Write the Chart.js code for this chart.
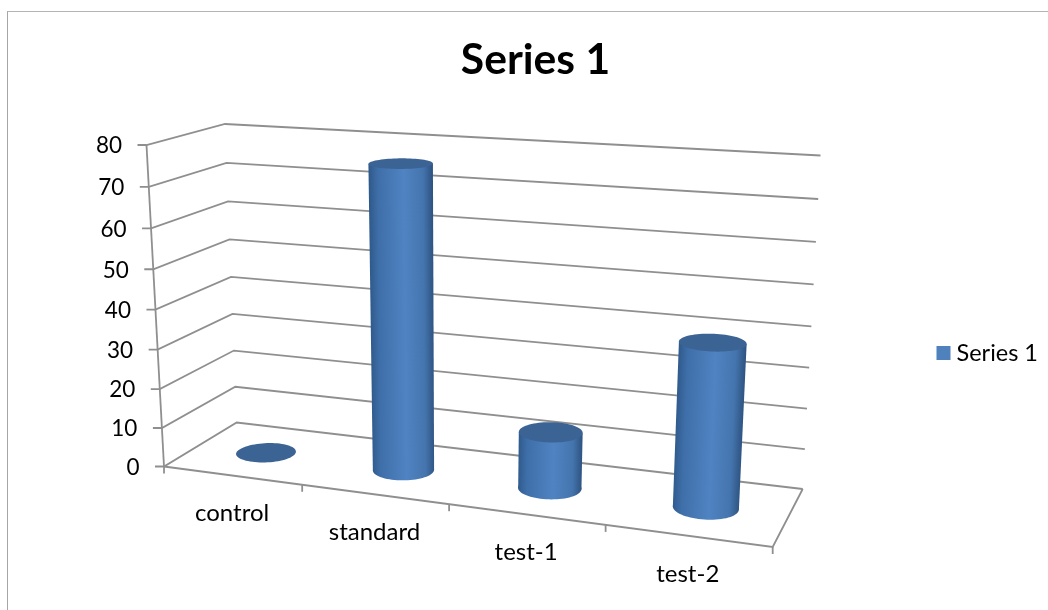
<!DOCTYPE html>
<html>
<head>
<meta charset="utf-8">
<title>Series 1</title>
<script src="https://cdn.jsdelivr.net/npm/chart.js@4"></script>
<style>
  html, body { margin: 0; padding: 0; background: #fff; overflow: hidden; }
  #wrap { position: relative; width: 1048px; height: 610px; }
  #frame { position: absolute; left: 7px; top: 11px; right: 0; bottom: 0; border-left: 1.5px solid #a6a6a6; border-top: 1.5px solid #b4b4b4; }
  canvas { position: absolute; left: 0; top: 0; display: block; }
</style>
</head>
<body>
<div id="wrap">
  <div id="frame"></div>
  <canvas id="chart" width="1048" height="610"></canvas>
</div>
<script>
const seriesName = "Series 1";
const categories = ["control", "standard", "test-1", "test-2"];
const seriesValues = [0, 76, 14, 39.5];
const yMin = 0;
const yMax = 80;
const yStep = 10;

// corners of the 3d box on screen: front/back, left/right, floor/top
const box = {
  frontLeftFloor: [164, 466.5], frontLeftTop: [146.5, 145],
  backLeftFloor: [236.7, 422.5], backLeftTop: [225, 124],
  frontRightFloor: [772.7, 547], frontRightTop: [793, 184],
  backRightFloor: [802.7, 489], backRightTop: [820.5, 155.5],
};
const lineColor = "#8f8f8f";
const capColor = "#3b6394";
const valueFont = "22.5px Lato";
const categoryFont = "24px Lato";
const depthRadius = 0.2;

function perspective(t, a) {
  return t / (a + (1 - a) * t);
}

function mix(p, q, t) {
  return [p[0] + (q[0] - p[0]) * t, p[1] + (q[1] - p[1]) * t];
}

// u along the categories, d into the page, v up the value axis (all 0..1)
function project(u, d, v) {
  const pu = perspective(u, 1.135);
  const pv = perspective(v, 1.05);
  const floorFront = mix(box.frontLeftFloor, box.frontRightFloor, pu);
  const floorBack = mix(box.backLeftFloor, box.backRightFloor, pu);
  const topFront = mix(box.frontLeftTop, box.frontRightTop, pu);
  const topBack = mix(box.backLeftTop, box.backRightTop, pu);
  return mix(mix(floorFront, floorBack, d), mix(topFront, topBack, d), pv);
}

function polyline(ctx, points) {
  ctx.beginPath();
  points.forEach((p, i) => (i ? ctx.lineTo(p[0], p[1]) : ctx.moveTo(p[0], p[1])));
  ctx.stroke();
}

function fillPolygon(ctx, points, style) {
  ctx.fillStyle = style;
  ctx.beginPath();
  points.forEach((p, i) => (i ? ctx.lineTo(p[0], p[1]) : ctx.moveTo(p[0], p[1])));
  ctx.closePath();
  ctx.fill();
}

function ring(u, r, v) {
  const pts = [];
  for (let k = 0; k < 72; k++) {
    const a = (k / 72) * Math.PI * 2;
    pts.push(project(u + r * Math.cos(a), 0.5 + depthRadius * Math.sin(a), v));
  }
  return pts;
}

function drawWalls(chart) {
  const ctx = chart.ctx;
  const area = chart.chartArea;
  const yScale = chart.scales.y;
  const xScale = chart.scales.x;
  ctx.save();
  ctx.strokeStyle = lineColor;
  ctx.lineWidth = 1.8;
  ctx.fillStyle = "#000";
  ctx.textBaseline = "middle";

  ctx.font = valueFont;
  ctx.textAlign = "right";
  yScale.ticks.forEach((tick) => {
    const v = (area.bottom - yScale.getPixelForValue(tick.value)) / area.height;
    const front = project(0, 0, v);
    polyline(ctx, [[front[0] - 9, front[1]], front, project(0, 1, v), project(1, 1, v)]);
    ctx.fillText(tick.label, front[0] - 24.5, front[1] + 1);
  });

  polyline(ctx, [project(0, 0, 0), project(0, 0, 1)]);
  polyline(ctx, [project(0, 0, 0), project(1, 0, 0), project(1, 1, 0)]);

  const step = area.width / categories.length;
  for (let i = 0; i <= categories.length; i++) {
    const p = project((i * step) / area.width, 0, 0);
    polyline(ctx, [p, [p[0], p[1] + 7]]);
  }

  ctx.font = categoryFont;
  ctx.textAlign = "center";
  categories.forEach((name, i) => {
    const p = project((xScale.getPixelForValue(i) - area.left) / area.width, 0, 0);
    ctx.fillText(name, p[0], p[1] + 38);
  });
  ctx.restore();
}

function drawCylinder(chart, bar) {
  const ctx = chart.ctx;
  const area = chart.chartArea;
  const u = (bar.x - area.left) / area.width;
  const r = bar.width / 2 / area.width;
  const vTop = (area.bottom - bar.y) / area.height;
  const vBase = (area.bottom - bar.base) / area.height;
  const topRing = ring(u, r, vTop);
  const baseRing = ring(u, r, vBase);

  if (vTop > vBase) {
    const topC = project(u, 0.5, vTop);
    const baseC = project(u, 0.5, vBase);
    const len = Math.hypot(topC[0] - baseC[0], topC[1] - baseC[1]);
    const n = [-(topC[1] - baseC[1]) / len, (topC[0] - baseC[0]) / len];
    const side = (p, c) => (p[0] - c[0]) * n[0] + (p[1] - c[1]) * n[1];
    const pick = (pts, c, sign) => pts.reduce((best, p) => (sign * side(p, c) > sign * side(best, c) ? p : best));
    const sign = n[0] > 0 ? 1 : -1;
    const tl = pick(topRing, topC, -sign);
    const tr = pick(topRing, topC, sign);
    const bl = pick(baseRing, baseC, -sign);
    const br = pick(baseRing, baseC, sign);
    const mid = mix(baseC, topC, 0.5);
    const half = (Math.abs(side(tr, topC)) + Math.abs(side(br, baseC))) / 2;
    const grad = ctx.createLinearGradient(
      mid[0] - sign * n[0] * half, mid[1] - sign * n[1] * half,
      mid[0] + sign * n[0] * half, mid[1] + sign * n[1] * half
    );
    grad.addColorStop(0, "#2f5a8c");
    grad.addColorStop(0.14, "#3f6fa9");
    grad.addColorStop(0.55, "#4f83c2");
    grad.addColorStop(0.85, "#4575ae");
    grad.addColorStop(1, "#2e5482");
    fillPolygon(ctx, baseRing, grad);
    fillPolygon(ctx, [tl, tr, br, bl], grad);
  }
  fillPolygon(ctx, topRing, capColor);
}

const cylinders = {
  id: "cylinders",
  beforeDatasetsDraw(chart) {
    drawWalls(chart);
  },
  beforeDatasetDraw(chart, args) {
    args.meta.data.forEach((bar) => drawCylinder(chart, bar));
    return false;
  },
};

new Chart(document.getElementById("chart"), {
  type: "bar",
  data: {
    labels: categories,
    datasets: [
      {
        label: seriesName,
        data: seriesValues,
        backgroundColor: "#4f81bd",
        borderColor: "#4f81bd",
        borderWidth: 11.5,
        categoryPercentage: 1,
        barPercentage: 0.4,
      },
    ],
  },
  plugins: [cylinders],
  options: {
    responsive: false,
    animation: false,
    layout: { padding: { left: 23, right: 0, top: 0, bottom: 0 } },
    scales: {
      x: { display: false },
      y: { display: false, min: yMin, max: yMax, ticks: { stepSize: yStep } },
    },
    plugins: {
      tooltip: { enabled: false },
      title: {
        display: true,
        text: seriesName,
        color: "#000",
        font: { family: "Lato", size: 42.6, weight: "bold" },
        padding: { top: 34.5, bottom: 10.5 },
      },
      legend: {
        position: "right",
        fullSize: false,
        labels: {
          color: "#000",
          font: { family: "Lato", size: 23.5 },
          boxWidth: 2.5,
          boxHeight: 2.5,
          padding: 10,
        },
      },
    },
  },
});
</script>
</body>
</html>
